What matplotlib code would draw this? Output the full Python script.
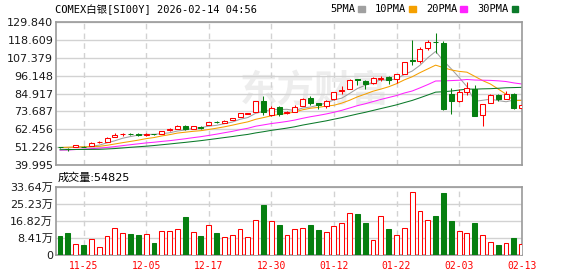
import numpy as np
import pandas as pd
import matplotlib
matplotlib.use("Agg")
import matplotlib.pyplot as plt
from matplotlib.patches import Rectangle, Patch

plt.rcParams['font.family'] = ['DejaVu Sans', 'Noto Sans CJK SC']

# ---- data ----
dates = pd.bdate_range("2025-11-20", "2026-02-13")
dates = dates[~dates.isin(pd.to_datetime(["2025-12-25", "2026-01-01"]))]

opens = [51.2, 50.2, 51.3, 51.6, 52.1, 54.2, 54.5, 57.9, 59.2, 59.5,
         59.3, 59.1, 59.4, 59.5, 62.1, 62.9, 64.4, 62.9, 63.7, 65.2,
         67.2, 66.4, 68.5, 70.4, 72.2, 73.3, 80.5, 71.6, 76.4, 72.5,
         73.3, 77.1, 82.0, 78.7, 76.8, 81.2, 86.6, 87.8, 94.0, 93.0,
         91.6, 94.3, 95.5, 94.0, 97.4, 105.7, 105.1, 113.4, 117.4, 116.5,
         84.9, 80.1, 86.0, 87.8, 71.4, 79.1, 83.7, 81.6, 84.9, 75.8]
highs = [51.5, 50.4, 52.5, 51.8, 54.3, 55.0, 57.4, 60.0, 60.2, 60.0,
         59.9, 60.3, 59.5, 61.6, 63.1, 65.0, 65.3, 64.8, 64.7, 67.2,
         67.8, 68.1, 69.5, 72.6, 72.9, 80.5, 83.2, 77.0, 77.0, 73.8,
         78.0, 81.8, 83.2, 79.0, 80.8, 86.0, 89.5, 93.9, 94.0, 93.3,
         95.0, 96.1, 95.8, 97.3, 104.8, 118.6, 114.0, 118.6, 122.8, 118.0,
         88.5, 87.8, 92.2, 90.5, 78.5, 84.3, 84.3, 86.4, 85.3, 80.1]
lows = [50.7, 48.6, 51.0, 51.1, 51.9, 53.9, 54.3, 57.7, 58.1, 58.6,
        58.5, 58.3, 59.0, 59.3, 61.4, 62.6, 61.9, 62.7, 62.5, 65.0,
        66.1, 66.2, 68.3, 70.2, 71.8, 73.0, 71.2, 70.8, 70.5, 71.8,
        73.0, 76.9, 77.4, 74.9, 76.0, 81.0, 84.3, 87.5, 90.3, 87.8,
        91.2, 92.6, 91.0, 91.6, 97.0, 103.0, 104.1, 112.0, 110.3, 74.5,
        72.2, 79.5, 83.7, 70.8, 64.5, 78.7, 80.1, 81.3, 75.4, 74.5]
closes = [51.0, 50.0, 52.3, 51.4, 54.1, 54.5, 57.2, 58.9, 59.4, 59.3,
          59.1, 59.3, 59.2, 61.4, 62.3, 64.4, 62.7, 64.4, 63.5, 67.0,
          67.0, 67.9, 69.3, 72.4, 72.5, 80.3, 73.5, 75.8, 72.0, 73.3,
          76.4, 81.4, 78.9, 77.8, 80.5, 85.7, 87.0, 93.6, 93.4, 90.6,
          94.7, 94.6, 93.6, 97.0, 104.5, 105.3, 112.8, 117.2, 117.0, 75.0,
          80.1, 85.7, 88.5, 70.8, 78.1, 83.7, 81.2, 84.9, 76.0, 77.4]

# volume in 万 (10k)
volumes = [9.2, 10.9, 5.3, 4.9, 8.1, 3.7, 9.2, 13.4, 10.7, 10.2,
           9.7, 10.2, 6.0, 11.7, 11.7, 13.0, 18.5, 11.2, 9.2, 14.6,
           10.9, 9.1, 9.7, 12.6, 9.1, 17.0, 24.8, 16.5, 14.6, 9.7,
           13.0, 13.4, 14.6, 12.2, 11.5, 14.4, 15.9, 20.7, 20.4, 15.6,
           7.6, 19.3, 12.6, 10.0, 13.4, 30.9, 21.7, 17.3, 19.0, 30.6,
           16.5, 12.0, 11.0, 16.0, 10.0, 6.2, 4.9, 5.7, 8.3, 5.4825]
# 1 = red (up) volume bar, 0 = green
vol_up = [0, 0, 1, 0, 1, 1, 1, 1, 1, 0,
          0, 1, 0, 1, 1, 1, 0, 1, 0, 1,
          0, 1, 1, 1, 1, 1, 0, 1, 0, 1,
          1, 1, 0, 0, 1, 1, 1, 1, 0, 0,
          1, 1, 0, 1, 1, 1, 1, 1, 0, 0,
          0, 1, 1, 0, 1, 1, 0, 1, 0, 1]

# closes before the first visible bar, only used to start the moving averages
prev_closes = [47.5, 50.5, 51.0, 52.5, 53.3, 50.5, 51.3, 48.0, 47.5, 48.5,
               48.6, 46.6, 46.8, 48.0, 48.5, 48.1, 48.0, 47.2, 47.8, 48.0,
               48.1, 50.5, 51.0, 53.0, 52.5, 50.5, 50.6, 51.0, 51.6]

ma_periods = [5, 10, 20, 30]
ma_labels = ['5PMA', '10PMA', '20PMA', '30PMA']
ma_colors = ['#a0a0a0', '#f5a000', '#ff22ff', '#0b7a2a']

price_ticks = [39.995, 51.226, 62.456, 73.687, 84.917, 96.148, 107.379, 118.609, 129.840]
vol_ticks = [0, 8.41, 16.82, 25.23, 33.64]
date_ticks = ['11-25', '12-05', '12-17', '12-30', '01-12', '01-22', '02-03', '02-13']

title = 'COMEX白银[SI00Y] 2026-02-14 04:56'

RED = '#ff0000'
GREEN = '#067f10'
FRAME = '#9a9a9a'
GRID = '#d2d2d2'
LW = 0.75  # about one pixel

# ---- figure ----
W, H = 578, 276
fig = plt.figure(figsize=(W / 100, H / 100), dpi=100)
left, right = 56 / W, 522 / W
ax = fig.add_axes([left, 1 - 165 / H, right - left, (165 - 22) / H])
axv = fig.add_axes([left, 1 - 255 / H, right - left, (255 - 186.7) / H], sharex=ax)

x = np.arange(len(closes))
all_close = pd.Series(prev_closes + closes)
n_prev = len(prev_closes)

# watermark
ax.text(0.555, 0.52, '东方财富', transform=ax.transAxes, fontsize=27,
        color='#ededed', ha='center', va='center', zorder=0,
        family='Noto Sans CJK SC', fontweight='bold')

# moving averages
for p, c in zip(ma_periods, ma_colors):
    ma = all_close.rolling(p).mean().values[n_prev:]
    ax.plot(x, ma, color=c, lw=LW, zorder=2)

# candles
body_w = 0.64
for i in x:
    o, h, l, c = opens[i], highs[i], lows[i], closes[i]
    up = c >= o
    col = RED if up else GREEN
    b0, b1 = min(o, c), max(o, c)
    ax.vlines(i, l, b0, color=col, lw=LW, zorder=3)
    ax.vlines(i, b1, h, color=col, lw=LW, zorder=3)
    ax.add_patch(Rectangle((i - body_w / 2, b0), body_w, max(b1 - b0, 0.05),
                           facecolor='white' if up else col, edgecolor=col,
                           lw=LW, zorder=4))

# volume bars
vcols = [RED if u else GREEN for u in vol_up]
vfaces = ['white' if u else GREEN for u in vol_up]
axv.bar(x, volumes, width=0.62, color=vfaces, edgecolor=vcols, lw=LW, zorder=3)

# axes styling
ax.set_xlim(-0.52, len(x) - 0.96)
ax.set_ylim(price_ticks[0], price_ticks[-1])
ax.set_yticks(price_ticks)
ax.set_yticklabels([f'{v:.3f}' for v in price_ticks])
axv.set_ylim(vol_ticks[0], vol_ticks[-1])
axv.set_yticks(vol_ticks)
axv.set_yticklabels(['0'] + [f'{v:.2f}万' for v in vol_ticks[1:]])

labels = list(dates.strftime('%m-%d'))
tick_pos = [labels.index(d) for d in date_ticks]
axv.set_xticks(tick_pos)
axv.set_xticklabels(date_ticks)
plt.setp(ax.get_xticklabels(), visible=False)

for a in (ax, axv):
    for s in a.spines.values():
        s.set_color(FRAME)
        s.set_linewidth(1.2)
    a.tick_params(length=0, pad=2, labelsize=8, labelcolor='#1a1a1a')
    a.yaxis.grid(True, color=GRID, lw=1.0, ls='-', zorder=0)
    a.xaxis.grid(True, color=GRID, lw=1.0, ls=(0, (4, 3)), zorder=0)
    a.set_axisbelow(True)
axv.tick_params(axis='x', labelsize=7, labelcolor=RED, pad=4)
for t in axv.get_xticklabels():
    t.set_family('DejaVu Sans Mono')

# header texts
fig.text(55 / W, 1 - 9.5 / H, title, fontsize=7.5, va='center', ha='left',
         family=['DejaVu Sans Mono', 'Noto Sans CJK SC'])
fig.text(58 / W, 1 - 177.5 / H, f'成交量:{volumes[-1] * 1e4:.0f}', fontsize=8,
         va='center', ha='left')

handles = [Patch(color=c) for c in ma_colors]
fig.legend(handles, ma_labels, loc='center', bbox_to_anchor=(424 / W, 1 - 9.5 / H),
           ncol=4, frameon=False, markerfirst=False, handlelength=0.6,
           handleheight=0.45, handletextpad=0.3, columnspacing=1.0,
           prop=dict(family='DejaVu Sans Mono', size=7.5), borderpad=0)

fig.savefig('out.png', dpi=100)
